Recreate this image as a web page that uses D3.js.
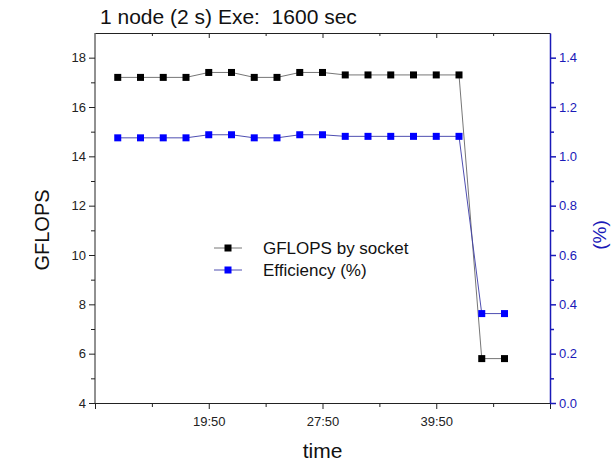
<!DOCTYPE html>
<html>
<head>
<meta charset="utf-8">
<script src="https://cdn.jsdelivr.net/npm/d3@7/dist/d3.min.js"></script>
<style>
  body { margin: 0; background: #fff; }
  svg { font-family: "Liberation Sans", Arial, sans-serif; }
</style>
</head>
<body>
<svg id="chart" width="613" height="463"></svg>
<script>
// ---- data ----
const pointIndex = [1,2,3,4,5,6,7,8,9,10,11,12,13,14,15,16,17,18];
const gflops     = [17.2,17.2,17.2,17.2,17.4,17.4,17.2,17.2,17.4,17.4,17.3,17.3,17.3,17.3,17.3,17.3,5.8,5.8];
const efficiency = [1.075,1.075,1.075,1.075,1.0875,1.0875,1.075,1.075,1.0875,1.0875,1.081,1.081,1.081,1.081,1.081,1.081,0.3625,0.3625];
const xTickValues = [0,5,10,15,20];
const xTickLabels = ["","19:50","27:50","39:50",""];
const leftTicks  = [4,6,8,10,12,14,16,18];
const rightTicks = [0.0,0.2,0.4,0.6,0.8,1.0,1.2,1.4];
const seriesNames = ["GFLOPS by socket","Efficiency (%)"];
const titleText = "1 node (2 s) Exe:  1600 sec";

// ---- layout ----
const svg = d3.select("#chart");
const L = 95, R = 550, T = 33, B = 403;
const blue = "#0000ff", axisBlue = "#1a1ab8";

const x = d3.scaleLinear().domain([0,20]).range([L,R]);
const yL = d3.scaleLinear().domain([4,19]).range([B,T]);
const yR = d3.scaleLinear().domain([0,1.5]).range([B,T]);

// bottom axis
const gB = svg.append("g").attr("transform",`translate(0,${B})`);
gB.call(d3.axisBottom(x).tickValues(xTickValues).tickFormat((d,i)=>xTickLabels[i]).tickSize(6).tickSizeOuter(0));
gB.append("g").call(d3.axisBottom(x).tickValues([2.5,7.5,12.5,17.5]).tickFormat("").tickSize(4).tickSizeOuter(0))
  .select(".domain").remove();
// top axis (inward ticks)
const gT = svg.append("g").attr("transform",`translate(0,${T})`);
gT.call(d3.axisBottom(x).tickValues([2.5,5,7.5,10,12.5,15,17.5]).tickFormat("").tickSizeInner(0).tickSizeOuter(0));
gT.selectAll(".tick line").attr("y2",(d)=> (d%5===0)?5:3);

// left axis
const gL = svg.append("g").attr("transform",`translate(${L},0)`);
gL.call(d3.axisLeft(yL).tickValues(leftTicks).tickFormat(d3.format("d")).tickSize(6).tickSizeOuter(0));
gL.append("g").call(d3.axisLeft(yL).tickValues([5,7,9,11,13,15,17]).tickFormat("").tickSize(4).tickSizeOuter(0))
  .select(".domain").remove();
gL.select(".domain").attr("d",`M0,${B}V${T}`);

// right axis
const gR = svg.append("g").attr("transform",`translate(${R},0)`);
gR.call(d3.axisRight(yR).tickValues(rightTicks).tickFormat(d3.format(".1f")).tickSize(6).tickSizeOuter(0));
gR.append("g").call(d3.axisRight(yR).tickValues([0.1,0.3,0.5,0.7,0.9,1.1,1.3]).tickFormat("").tickSize(4).tickSizeOuter(0))
  .select(".domain").remove();
gR.selectAll("path,line").attr("stroke",axisBlue).attr("stroke-width",1.5);
gR.selectAll("text").attr("fill",axisBlue);

[gB,gT,gL].forEach(g=>g.selectAll("path,line").attr("stroke","#222").attr("stroke-width",1));
svg.selectAll(".tick text").attr("font-size",13).attr("font-family","'Liberation Sans', Arial, sans-serif");
gL.selectAll(".tick text").attr("fill","#222");
gB.selectAll(".tick text").attr("fill","#222").attr("dy","1.1em");

// lines
const lineL = d3.line().x((d,i)=>x(pointIndex[i])).y(d=>yL(d));
const lineR = d3.line().x((d,i)=>x(pointIndex[i])).y(d=>yR(d));
svg.append("path").datum(gflops).attr("d",lineL).attr("fill","none").attr("stroke","#666").attr("stroke-width",0.9);
svg.append("path").datum(efficiency).attr("d",lineR).attr("fill","none").attr("stroke","#3a3aa8").attr("stroke-width",0.9);

const s = 7;
svg.append("g").selectAll("rect").data(gflops).join("rect")
  .attr("x",(d,i)=>x(pointIndex[i])-s/2).attr("y",d=>yL(d)-s/2).attr("width",s).attr("height",s).attr("fill","#000");
svg.append("g").selectAll("rect").data(efficiency).join("rect")
  .attr("x",(d,i)=>x(pointIndex[i])-s/2).attr("y",d=>yR(d)-s/2).attr("width",s).attr("height",s).attr("fill",blue);

// legend
const leg = svg.append("g");
const legRows = [{c:"#000",lc:"#666",y:248},{c:blue,lc:"#3a3aa8",y:270}];
legRows.forEach((r,i)=>{
  leg.append("line").attr("x1",214).attr("x2",242).attr("y1",r.y).attr("y2",r.y).attr("stroke",r.lc).attr("stroke-width",0.9);
  leg.append("rect").attr("x",228-3.5).attr("y",r.y-3.5).attr("width",7).attr("height",7).attr("fill",r.c);
  leg.append("text").attr("x",263).attr("y",r.y+6).attr("font-size",17).attr("fill","#111").text(seriesNames[i]);
});

// titles
svg.append("text").attr("x",100).attr("y",24).attr("font-size",21).attr("fill","#111")
  .style("white-space","pre").attr("xml:space","preserve").text(titleText);
svg.append("text").attr("x",(L+R)/2).attr("y",458).attr("text-anchor","middle").attr("font-size",21).attr("fill","#111").text("time");
svg.append("text").attr("transform",`translate(49,230) rotate(-90)`).attr("text-anchor","middle").attr("font-size",20).attr("fill","#111").text("GFLOPS");
svg.append("text").attr("transform",`translate(606,235) rotate(-90)`).attr("text-anchor","middle").attr("font-size",19).attr("fill",axisBlue).text("(%)");
</script>
</body>
</html>
